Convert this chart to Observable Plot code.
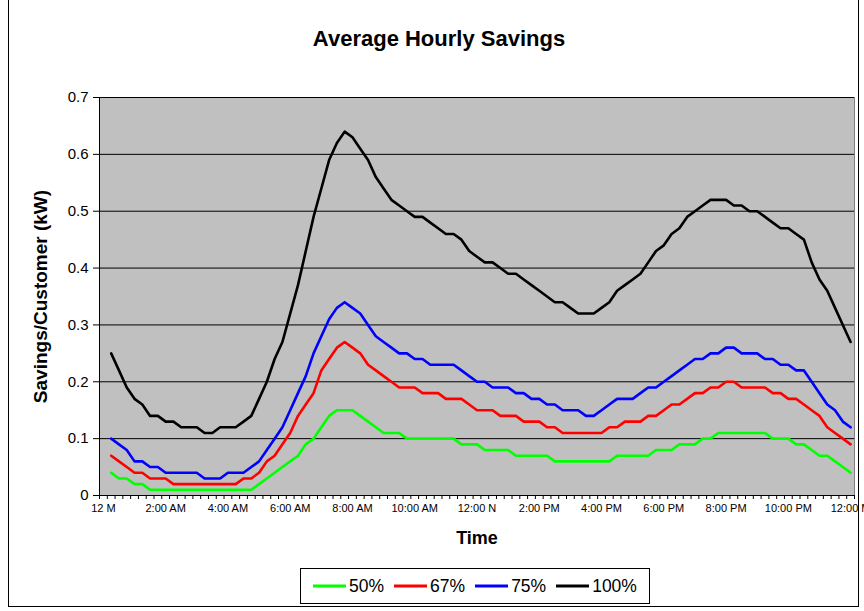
<!DOCTYPE html>
<html><head><meta charset="utf-8">
<script src="https://cdn.jsdelivr.net/npm/d3@7"></script>
<script src="https://cdn.jsdelivr.net/npm/@observablehq/plot@0.6"></script>
<style>
body{margin:0;background:#fff;}
#wrap{position:relative;width:864px;height:611px;overflow:hidden;font-family:"Liberation Sans",Arial,sans-serif;background:#fff;}
#border{position:absolute;left:8px;top:-2px;width:851px;height:609px;border:1px solid #000;box-sizing:border-box;pointer-events:none;}
#legend{position:absolute;left:300px;top:568px;width:350px;height:36px;border:1px solid #000;box-sizing:border-box;background:#fff;display:flex;align-items:center;justify-content:center;gap:0;font-size:17.5px;}
#legend .item{display:flex;align-items:center;margin:0 5px;}
#legend svg{margin-right:3px;}
</style></head><body>
<div id="wrap"><div id="chart"></div><div id="border"></div><div id="legend"></div></div>
<script>
// 15-minute slots: index 0 = 12 M ... 96 = 12:00 M (midnight); data starts at slot 1
const tickLabels = ["12 M","2:00 AM","4:00 AM","6:00 AM","8:00 AM","10:00 AM","12:00 N","2:00 PM","4:00 PM","6:00 PM","8:00 PM","10:00 PM","12:00 M"];
const seriesNames = ["50%","67%","75%","100%"];
const seriesColors = ["#00FF00","#FF0000","#0000FF","#000000"];
const yTicks = [0,0.1,0.2,0.3,0.4,0.5,0.6,0.7];

const s50 = [0.04,0.03,0.03,0.02,0.02,0.01,0.01,0.01,0.01,0.01,
 0.01,0.01,0.01,0.01,0.01,0.01,0.01,0.01,0.01,0.02,
 0.03,0.04,0.05,0.06,0.07,0.09,0.10,0.12,0.14,0.15,
 0.15,0.15,0.14,0.13,0.12,0.11,0.11,0.11,0.10,0.10,
 0.10,0.10,0.10,0.10,0.10,0.09,0.09,0.09,0.08,0.08,
 0.08,0.08,0.07,0.07,0.07,0.07,0.07,0.06,0.06,0.06,
 0.06,0.06,0.06,0.06,0.06,0.07,0.07,0.07,0.07,0.07,
 0.08,0.08,0.08,0.09,0.09,0.09,0.10,0.10,0.11,0.11,
 0.11,0.11,0.11,0.11,0.11,0.10,0.10,0.10,0.09,0.09,
 0.08,0.07,0.07,0.06,0.05,0.04];
const s67 = [0.07,0.06,0.05,0.04,0.04,0.03,0.03,0.03,0.02,0.02,
 0.02,0.02,0.02,0.02,0.02,0.02,0.02,0.03,0.03,0.04,
 0.06,0.07,0.09,0.11,0.14,0.16,0.18,0.22,0.24,0.26,
 0.27,0.26,0.25,0.23,0.22,0.21,0.20,0.19,0.19,0.19,
 0.18,0.18,0.18,0.17,0.17,0.17,0.16,0.15,0.15,0.15,
 0.14,0.14,0.14,0.13,0.13,0.13,0.12,0.12,0.11,0.11,
 0.11,0.11,0.11,0.11,0.12,0.12,0.13,0.13,0.13,0.14,
 0.14,0.15,0.16,0.16,0.17,0.18,0.18,0.19,0.19,0.20,
 0.20,0.19,0.19,0.19,0.19,0.18,0.18,0.17,0.17,0.16,
 0.15,0.14,0.12,0.11,0.10,0.09];
const s75 = [0.10,0.09,0.08,0.06,0.06,0.05,0.05,0.04,0.04,0.04,
 0.04,0.04,0.03,0.03,0.03,0.04,0.04,0.04,0.05,0.06,
 0.08,0.10,0.12,0.15,0.18,0.21,0.25,0.28,0.31,0.33,
 0.34,0.33,0.32,0.30,0.28,0.27,0.26,0.25,0.25,0.24,
 0.24,0.23,0.23,0.23,0.23,0.22,0.21,0.20,0.20,0.19,
 0.19,0.19,0.18,0.18,0.17,0.17,0.16,0.16,0.15,0.15,
 0.15,0.14,0.14,0.15,0.16,0.17,0.17,0.17,0.18,0.19,
 0.19,0.20,0.21,0.22,0.23,0.24,0.24,0.25,0.25,0.26,
 0.26,0.25,0.25,0.25,0.24,0.24,0.23,0.23,0.22,0.22,
 0.20,0.18,0.16,0.15,0.13,0.12];
const s100 = [0.25,0.22,0.19,0.17,0.16,0.14,0.14,0.13,0.13,0.12,
 0.12,0.12,0.11,0.11,0.12,0.12,0.12,0.13,0.14,0.17,
 0.20,0.24,0.27,0.32,0.37,0.43,0.49,0.54,0.59,0.62,
 0.64,0.63,0.61,0.59,0.56,0.54,0.52,0.51,0.50,0.49,
 0.49,0.48,0.47,0.46,0.46,0.45,0.43,0.42,0.41,0.41,
 0.40,0.39,0.39,0.38,0.37,0.36,0.35,0.34,0.34,0.33,
 0.32,0.32,0.32,0.33,0.34,0.36,0.37,0.38,0.39,0.41,
 0.43,0.44,0.46,0.47,0.49,0.50,0.51,0.52,0.52,0.52,
 0.51,0.51,0.50,0.50,0.49,0.48,0.47,0.47,0.46,0.45,
 0.41,0.38,0.36,0.33,0.30,0.27];

const allSeries = [s50, s67, s75, s100];
const rows = [];
allSeries.forEach((vals, k) => vals.forEach((v, j) => rows.push({slot: j + 1, value: v, series: seriesNames[k]})));

const labelSlots = tickLabels.map((_, k) => k * 8);
const slotEdges = d3.range(0, 98).map(k => k - 0.5);
const font = '"Liberation Sans", Arial, sans-serif';

const chart = Plot.plot({
  width: 864, height: 611,
  marginTop: 97, marginBottom: 116, marginLeft: 99, marginRight: 10,
  style: {fontFamily: font, background: "transparent", overflow: "visible"},
  x: {type: "linear", domain: [-0.5, 96.5]},
  y: {domain: [0, 0.7]},
  color: {domain: seriesNames, range: seriesColors},
  marks: [
    Plot.frame({fill: "#C0C0C0", stroke: "#808080"}),
    Plot.ruleY(yTicks.slice(1), {stroke: "#000", strokeWidth: 1}),
    Plot.axisY(yTicks, {tickSize: 6, tickPadding: 5, fontSize: 15, tickFormat: d => d === 0 ? "0" : d.toFixed(1), label: null, stroke: "#000", color: "#000"}),
    Plot.axisX(slotEdges, {tickSize: 4, tickFormat: () => "", label: null, stroke: "#000"}),
    Plot.axisX(labelSlots, {tickSize: 0, tickPadding: 9, fontSize: 11, tickFormat: (d, i) => tickLabels[i], label: null, color: "#000"}),
    Plot.ruleX([-0.5], {stroke: "#000"}),
    Plot.ruleY([0], {stroke: "#000"}),
    Plot.lineY(rows, {x: "slot", y: "value", z: "series", stroke: "series", strokeWidth: 2.6, strokeLinejoin: "round"}),
    Plot.text(["Average Hourly Savings"], {frameAnchor: "top", lineAnchor: "middle", dy: -59, dx: -38, fontSize: 22, fontWeight: "bold", fill: "#000"}),
    Plot.text(["Time"], {frameAnchor: "bottom", lineAnchor: "middle", dy: 43, fontSize: 18, fontWeight: "bold", fill: "#000"}),
    Plot.text(["Savings/Customer (kW)"], {frameAnchor: "left", textAnchor: "middle", lineAnchor: "middle", dx: -59, rotate: -90, fontSize: 19, fontWeight: "bold", fill: "#000"})
  ]
});
document.getElementById("chart").appendChild(chart);

const legend = document.getElementById("legend");
seriesNames.forEach((name, k) => {
  const item = document.createElement("div");
  item.className = "item";
  item.innerHTML = `<svg width="33" height="6"><line x1="0" y1="3" x2="33" y2="3" stroke="${seriesColors[k]}" stroke-width="3"/></svg><span>${name}</span>`;
  legend.appendChild(item);
});
</script>
</body></html>
